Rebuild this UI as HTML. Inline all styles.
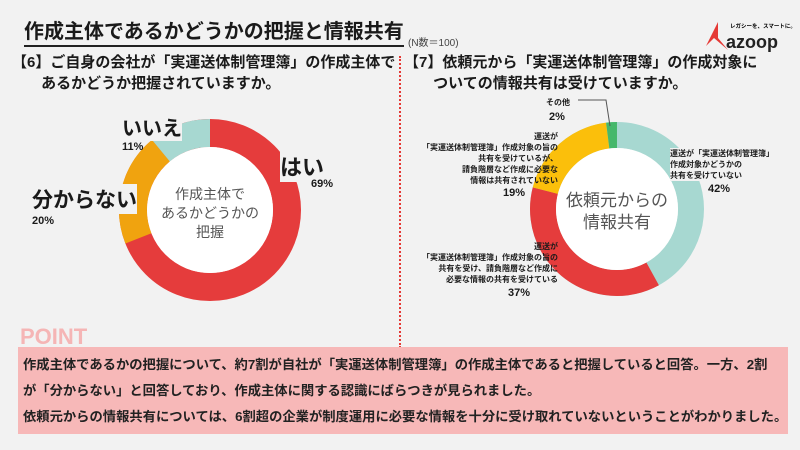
<!DOCTYPE html>
<html><head><meta charset="utf-8"><style>
body{margin:0;width:800px;height:450px;background:#f2f2f2;font-family:"Liberation Sans","Noto Sans CJK JP",sans-serif;position:relative;overflow:hidden;color:#1a1a1a}
.a{position:absolute;white-space:nowrap}
.b{font-weight:bold}
</style></head><body>
<div class="a b" style="left:24px;top:20px;font-size:20px;border-bottom:2px solid #222;line-height:24px;padding-bottom:1px">作成主体であるかどうかの把握と情報共有</div>
<div class="a" style="left:408px;top:34px;font-size:10px;color:#444">(N数＝100)</div>
<svg class="a" style="left:704px;top:18px" width="96" height="34"><polygon points="2,28 14,4 14,20 24,32 10,20" fill="#e53935"/><text x="26" y="10" font-size="5.5" font-family="Liberation Sans,Noto Sans CJK JP,sans-serif" font-weight="bold">レガシーを、スマートに。</text><text x="22" y="30" font-size="18" font-weight="bold" font-family="Liberation Sans,sans-serif" fill="#222">azoop</text></svg>
<div class="a b" style="left:12px;top:52px;font-size:15px;line-height:21px">【6】ご自身の会社が「実運送体制管理簿」の作成主体で<br>&nbsp;&nbsp;&nbsp;&nbsp;&nbsp;&nbsp;&nbsp;あるかどうか把握されていますか。</div>
<div class="a b" style="left:404px;top:52px;font-size:15px;line-height:21px">【7】依頼元から「実運送体制管理簿」の作成対象に<br>&nbsp;&nbsp;&nbsp;&nbsp;&nbsp;&nbsp;&nbsp;ついての情報共有は受けていますか。</div>
<div class="a" style="left:399px;top:56px;height:292px;border-left:2px dotted #e53935"></div>
<svg class="a" style="left:0;top:0" width="800" height="340">
<g transform="translate(210,210)">
<circle r="77" fill="none" stroke="#e53c3c" stroke-width="28"/>
<circle r="77" fill="none" stroke="#f0a30f" stroke-width="28" stroke-dasharray="96.8 1000" transform="rotate(158.4)"/>
<circle r="77" fill="none" stroke="#a7d8d1" stroke-width="28" stroke-dasharray="53.2 1000" transform="rotate(230.4)"/>
<circle r="63" fill="#fff"/>
</g>
<g transform="translate(617,209)">
<circle r="74" fill="none" stroke="#a7d8d1" stroke-width="26"/>
<circle r="74" fill="none" stroke="#e53c3c" stroke-width="26" stroke-dasharray="172 1000" transform="rotate(61.2)"/>
<circle r="74" fill="none" stroke="#fbbf0b" stroke-width="26" stroke-dasharray="88.3 1000" transform="rotate(194.4)"/>
<circle r="74" fill="none" stroke="#45b86b" stroke-width="26" stroke-dasharray="9.3 1000" transform="rotate(262.8)"/>
<circle r="61" fill="#fff"/>
</g>
<polyline points="578,100 606,100 610,126" fill="none" stroke="#555" stroke-width="1"/>
</svg>
<div class="a" style="left:160px;top:185px;width:100px;text-align:center;font-size:14px;line-height:19px;color:#555">作成主体で<br>あるかどうかの<br>把握</div>
<div class="a" style="left:557px;top:190px;width:120px;text-align:center;font-size:17px;line-height:22px;color:#555">依頼元からの<br>情報共有</div>
<div class="a b" style="left:122px;top:112px;font-size:20px;background:#f2f2f2">いいえ</div>
<div class="a b" style="left:122px;top:141px;font-size:11px">11%</div>
<div class="a b" style="left:280px;top:150px;font-size:22px;background:#f2f2f2">はい</div>
<div class="a b" style="left:311px;top:178px;font-size:11px">69%</div>
<div class="a b" style="left:32px;top:184px;font-size:21px;background:#f2f2f2">分からない</div>
<div class="a b" style="left:32px;top:215px;font-size:11px">20%</div>
<div class="a b" style="left:546px;top:97px;font-size:8px">その他</div>
<div class="a b" style="left:549px;top:111px;font-size:11px">2%</div>
<div class="a b" style="left:670px;top:148px;font-size:8px;line-height:11px;background:#f2f2f2">運送が「実運送体制管理簿」<br>作成対象かどうかの<br>共有を受けていない</div>
<div class="a b" style="left:708px;top:183px;font-size:11px">42%</div>
<div class="a b" style="left:400px;top:131px;width:158px;text-align:right;font-size:8px;line-height:11px">運送が<br>「実運送体制管理簿」作成対象の旨の<br>共有を受けているが、<br>請負階層など作成に必要な<br>情報は共有されていない</div>
<div class="a b" style="left:503px;top:187px;font-size:11px">19%</div>
<div class="a b" style="left:400px;top:241px;width:158px;text-align:right;font-size:8px;line-height:11px">運送が<br>「実運送体制管理簿」作成対象の旨の<br>共有を受け、請負階層など作成に<br>必要な情報の共有を受けている</div>
<div class="a b" style="left:508px;top:287px;font-size:11px">37%</div>
<div class="a b" style="left:20px;top:325px;font-size:22px;color:#f5b5b5;line-height:24px">POINT</div>
<div class="a" style="left:18px;top:347px;width:770px;height:87px;background:#f7b8b8"></div>
<div class="a b" style="left:23px;top:352px;font-size:13.3px;line-height:26px;color:#222">作成主体であるかの把握について、約7割が自社が「実運送体制管理簿」の作成主体であると把握していると回答。一方、2割<br>が「分からない」と回答しており、作成主体に関する認識にばらつきが見られました。<br>依頼元からの情報共有については、6割超の企業が制度運用に必要な情報を十分に受け取れていないということがわかりました。</div>
</body></html>
